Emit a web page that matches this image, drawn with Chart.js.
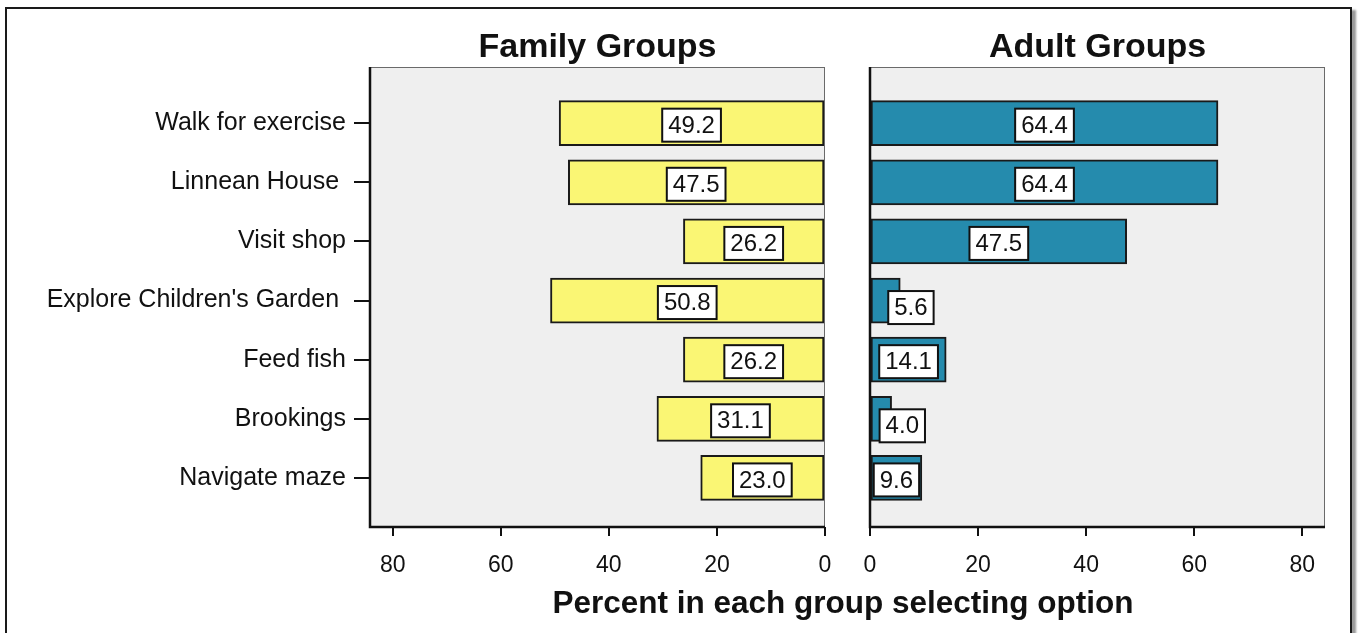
<!DOCTYPE html>
<html>
<head>
<meta charset="utf-8">
<script src="https://cdn.jsdelivr.net/npm/chart.js@4.4.1/dist/chart.umd.min.js"></script>
<style>
  body { margin: 0; background: #fff; }
  #wrap { position: relative; width: 1360px; height: 633px; overflow: hidden; background: #fff; }
  #wrap canvas { position: absolute; left: 0; top: 0; }
  .frame {
    position: absolute; left: 5px; top: 7px; width: 1343px; height: 700px;
    border: 2px solid #1a1a1a; box-shadow: 4px 3px 2px #9a9a9a;
  }
  .xtitle {
    position: absolute; left: 0; width: 1686px; top: 584px; text-align: center;
    font: bold 31.5px "Liberation Sans", Arial, sans-serif; color: #111;
  }
</style>
</head>
<body>
<div id="wrap">
  <div class="frame"></div>
  <canvas id="family" width="1360" height="633"></canvas>
  <canvas id="adult" width="1360" height="633"></canvas>
  <div class="xtitle">Percent in each group selecting option</div>
</div>
<script>
const categories = ["Walk for exercise", "Linnean House ", "Visit shop", "Explore Children's Garden ", "Feed fish", "Brookings", "Navigate maze"];
const familyPct = [49.2, 47.5, 26.2, 50.8, 26.2, 31.1, 23.0];
const adultPct = [64.4, 64.4, 47.5, 5.6, 14.1, 4.0, 9.6];
const xTicks = [0, 20, 40, 60, 80];

const FONT = '"Liberation Sans", Arial, sans-serif';
const INK = "#111";

// grey panel, its frame, the panel heading and boxed value labels
const panelFrame = {
  id: "panelFrame",
  beforeDraw(chart) {
    const { ctx, chartArea: a } = chart;
    ctx.save();
    ctx.fillStyle = "#efefef";
    ctx.fillRect(a.left, a.top, a.right - a.left, a.bottom - a.top);
    ctx.restore();
  },
  afterDatasetsDraw(chart, args, opts) {
    const { ctx, chartArea: a } = chart;
    ctx.save();
    // thin outline on the open sides
    ctx.strokeStyle = "#6a6a6a";
    ctx.lineWidth = 1;
    ctx.beginPath();
    ctx.moveTo(a.left, a.top + 0.5);
    ctx.lineTo(a.right, a.top + 0.5);
    ctx.moveTo(a.right - 0.5, a.top);
    ctx.lineTo(a.right - 0.5, a.bottom);
    ctx.stroke();
    // heavy axis lines
    ctx.strokeStyle = INK;
    ctx.lineWidth = 2.5;
    ctx.beginPath();
    ctx.moveTo(a.left, a.top);
    ctx.lineTo(a.left, a.bottom);
    ctx.lineTo(a.right, a.bottom);
    ctx.stroke();

    // value labels
    const values = opts.values;
    ctx.font = "24px " + FONT;
    ctx.textAlign = "center";
    ctx.textBaseline = "middle";
    chart.getDatasetMeta(0).data.forEach((bar, i) => {
      const { x, y, base } = bar.getProps(["x", "y", "base"], true);
      const txt = values[i].toFixed(1);
      const bw = ctx.measureText(txt).width + 12;
      const bh = 33;
      let cx = (x + base) / 2;
      let cy = y + 2;
      if (bw + 2 > Math.abs(x - base)) {
        const dir = Math.sign(x - base) || 1;
        cx = x - dir * 12 + dir * bw / 2;
        cy = y + 7;
      }
      ctx.fillStyle = "#fff";
      ctx.fillRect(cx - bw / 2, cy - bh / 2, bw, bh);
      ctx.strokeStyle = INK;
      ctx.lineWidth = 2;
      ctx.strokeRect(cx - bw / 2, cy - bh / 2, bw, bh);
      ctx.fillStyle = INK;
      ctx.fillText(txt, cx, cy + 1);
    });
    ctx.restore();
  },
  afterDraw(chart, args, opts) {
    const { ctx, chartArea: a } = chart;
    ctx.save();
    ctx.font = "bold 34px " + FONT;
    ctx.fillStyle = INK;
    ctx.textAlign = "center";
    ctx.textBaseline = "middle";
    ctx.fillText(opts.title, (a.left + a.right) / 2, 48);
    ctx.restore();
  }
};

function xScale(reverse) {
  return {
    type: "linear",
    reverse: reverse,
    min: 0,
    max: 84.2,
    afterBuildTicks: (s) => { s.ticks = xTicks.map((v) => ({ value: v })); },
    afterFit: (s) => { s.height = 106; },
    ticks: { color: INK, font: { family: FONT, size: 23 }, padding: 16, maxRotation: 0 },
    grid: { drawOnChartArea: false, drawTicks: true, tickLength: 9, color: INK, lineWidth: 2 },
    border: { display: false }
  };
}

function yScale(show) {
  return {
    type: "linear",
    display: show,
    reverse: true,
    offset: false,
    min: -0.95,
    max: 6.83,
    afterBuildTicks: (s) => { s.ticks = categories.map((c, i) => ({ value: i })); },
    afterFit: (s) => { s.width = show ? 370 : 0; },
    ticks: { autoSkip: false, color: INK, font: { family: FONT, size: 25 }, padding: 8,
      callback: (v) => categories[v] },
    grid: { offset: false, drawOnChartArea: false, drawTicks: true, tickLength: 16, color: INK, lineWidth: 2 },
    border: { display: false }
  };
}

function makePanel(id, values, color, title, side) {
  new Chart(document.getElementById(id), {
    type: "bar",
    data: {
      datasets: [{
        data: values.map((v, i) => ({ x: v, y: i })),
        backgroundColor: color,
        borderColor: "#1a1a1a",
        borderWidth: 2,
        borderSkipped: false,
        barThickness: 45
      }]
    },
    options: {
      indexAxis: "y",
      responsive: false,
      animation: false,
      devicePixelRatio: 1,
      layout: side === "left"
        ? { padding: { top: 67, left: 0, right: 535, bottom: 0 } }
        : { padding: { top: 67, left: 870, right: 35, bottom: 0 } },
      scales: { x: xScale(side === "left"), y: yScale(side === "left") },
      plugins: {
        legend: { display: false },
        tooltip: { enabled: false },
        panelFrame: { title: title, values: values }
      }
    },
    plugins: [panelFrame]
  });
}

makePanel("family", familyPct, "#faf674", "Family Groups", "left");
makePanel("adult", adultPct, "#258bad", "Adult Groups", "right");
</script>
</body>
</html>
